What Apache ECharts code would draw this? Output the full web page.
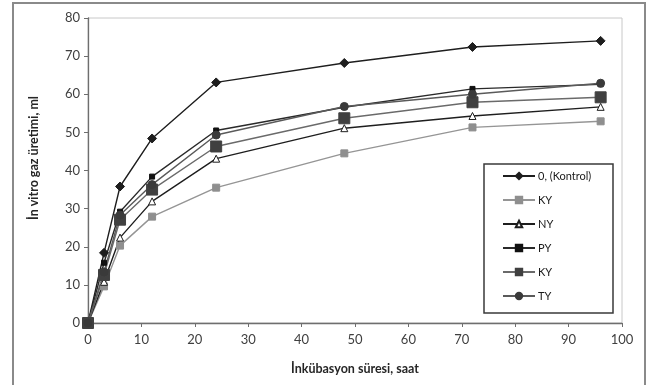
<!DOCTYPE html>
<html>
<head>
<meta charset="utf-8">
<script src="https://cdn.jsdelivr.net/npm/echarts@6/dist/echarts.min.js"></script>
<style>html,body{margin:0;padding:0;background:#fff}#c{width:648px;height:385px}</style>
</head>
<body>
<div id="c"></div>
<script>
var hours = [0, 3, 6, 12, 24, 48, 72, 96];
var kontrol = [0, 18.4, 35.8, 48.4, 63.1, 68.2, 72.4, 74.0];
var ky1 = [0, 9.6, 20.3, 27.9, 35.5, 44.5, 51.3, 52.9];
var ny = [0, 10.8, 22.4, 31.9, 43.1, 51.1, 54.3, 56.7];
var py = [0, 15.8, 29.2, 38.4, 50.5, 56.6, 61.4, 62.6];
var ky2 = [0, 12.6, 27.1, 35.0, 46.3, 53.7, 57.9, 59.2];
var ty = [0, 13.4, 28.3, 36.3, 49.3, 56.8, 60.0, 62.9];
var seriesNames = ['0, (Kontrol)', 'KY', 'NY', 'PY', 'KY ', 'TY'];
var xTicks = [0, 10, 20, 30, 40, 50, 60, 70, 80, 90, 100];
var yTicks = [0, 10, 20, 30, 40, 50, 60, 70, 80];

function pairs(vals) { return hours.map(function (h, i) { return [h, vals[i]]; }); }

var FONT = 'Lato, "Open Sans", sans-serif';
var chart = echarts.init(document.getElementById('c'));

function mk(name, vals, symbol, size, lineColor, fill, border) {
  return {
    name: name, type: 'line', data: pairs(vals), symbol: symbol, symbolSize: size,
    showAllSymbol: true, animation: false,
    lineStyle: { color: lineColor, width: 1.4 },
    itemStyle: { color: fill, borderColor: border || fill, borderWidth: 1 },
    emphasis: { disabled: true }
  };
}

chart.setOption({
  backgroundColor: '#ffffff',
  textStyle: { fontFamily: FONT },
  grid: { left: 88, right: 26, top: 18, bottom: 62, show: true, borderColor: '#c8c8c8', borderWidth: 1, backgroundColor: 'transparent' },
  xAxis: {
    type: 'value', min: xTicks[0], max: xTicks[xTicks.length - 1], interval: 10,
    axisLine: { lineStyle: { color: '#6e6e6e', width: 1.3 } },
    axisTick: { show: true, length: 4, lineStyle: { color: '#6e6e6e' } },
    splitLine: { show: false },
    axisLabel: { color: '#404040', fontSize: 13, margin: 10, fontFamily: FONT }
  },
  yAxis: {
    type: 'value', min: yTicks[0], max: yTicks[yTicks.length - 1], interval: 10,
    axisLine: { show: true, lineStyle: { color: '#6e6e6e', width: 1.3 } },
    axisTick: { show: true, length: 4, lineStyle: { color: '#6e6e6e' } },
    splitLine: { show: false },
    axisLabel: { color: '#404040', fontSize: 13, margin: 8, fontFamily: FONT }
  },
  legend: {
    orient: 'vertical', left: 502, top: 169, itemWidth: 32, itemHeight: 8, itemGap: 10,
    padding: 0, selectedMode: false,
    data: seriesNames,
    formatter: function (n) { return n.trim(); },
    textStyle: { color: '#1a1a1a', fontSize: 11, fontFamily: FONT, lineHeight: 14, padding: [0, 0, 0, -2] }
  },
  graphic: [
    { type: 'rect', shape: { x: 13, y: 3, width: 632, height: 386 }, style: { fill: 'none', stroke: '#8a8a8a', lineWidth: 2 }, silent: true, z: -10 },
    { type: 'rect', shape: { x: 484, y: 164, width: 129, height: 149 }, style: { fill: '#ffffff', stroke: '#3a3a3a', lineWidth: 1.5 }, silent: true, z: 0 },
    { type: 'text', x: 34, y: 158, rotation: Math.PI / 2, style: { text: 'İn vitro gaz üretimi, ml', font: 'bold 12.5px ' + FONT, fill: '#262626', align: 'center', verticalAlign: 'middle' }, silent: true },
    { type: 'text', x: 355, y: 369, style: { text: 'İnkübasyon süresi, saat', font: 'bold 12.5px ' + FONT, fill: '#262626', align: 'center', verticalAlign: 'middle' }, silent: true }
  ],
  series: [
    mk(seriesNames[0], kontrol, 'diamond', 9, '#1e1e1e', '#1e1e1e'),
    mk(seriesNames[1], ky1, 'rect', 7, '#959595', '#8f8f8f'),
    mk(seriesNames[2], ny, 'triangle', 7, '#1e1e1e', '#ffffff', '#1e1e1e'),
    mk(seriesNames[3], py, 'rect', 5, '#2a2a2a', '#111111'),
    mk(seriesNames[4], ky2, 'rect', 11, '#6a6a6a', '#404040'),
    mk(seriesNames[5], ty, 'circle', 8, '#5a5a5a', '#3a3a3a')
  ]
});
</script>
</body>
</html>
